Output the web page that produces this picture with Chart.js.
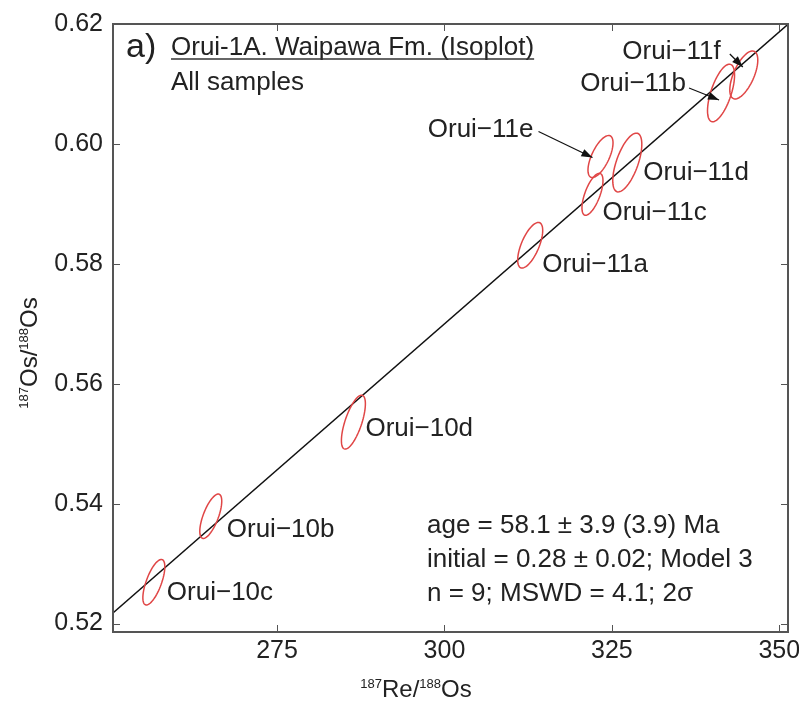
<!DOCTYPE html>
<html>
<head>
<meta charset="utf-8">
<script src="https://cdn.jsdelivr.net/npm/chart.js@4.4.1/dist/chart.umd.min.js"></script>
<style>
  html, body { margin: 0; padding: 0; background: #fff; }
  #wrap { width: 799px; height: 701px; position: relative; }
  canvas { display: block; }
</style>
</head>
<body>
<div id="wrap"><canvas id="c" width="799" height="701"></canvas></div>
<script>
// Re-Os isochron data, Orui-1A (Waipawa Fm.)
const sampleNames = ['Orui−10c', 'Orui−10b', 'Orui−10d', 'Orui−11a', 'Orui−11c', 'Orui−11e', 'Orui−11d', 'Orui−11b', 'Orui−11f'];
const reOs      = [256.6, 265.1, 286.4, 312.8, 322.1, 323.3, 327.3, 341.3, 344.7];      // 187Re/188Os
const osOs      = [0.5269, 0.5379, 0.5536, 0.5831, 0.5916, 0.5979, 0.5969, 0.6085, 0.6115]; // 187Os/188Os
const reOsErr   = [1.64, 1.64, 1.79, 1.87, 1.57, 1.87, 2.17, 2.02, 2.09];               // 2σ
const osOsErr   = [0.0038, 0.0037, 0.0045, 0.0038, 0.0035, 0.0035, 0.0049, 0.0048, 0.0040]; // 2σ
const errCorr   = [0.68, 0.68, 0.68, 0.65, 0.65, 0.65, 0.62, 0.62, 0.62];

// Isochron fit
const fitIntercept = 0.2778;
const fitSlope = 0.000974;

const xTickValues = [275, 300, 325, 350];
const yTickValues = [0.52, 0.54, 0.56, 0.58, 0.60, 0.62];
const xRange = [250.5, 351.3];
const yRange = [0.5186, 0.62];

const panelTitle = 'Orui-1A. Waipawa Fm. (Isoplot)';
const panelSubtitle = 'All samples';
const statLines = ['age = 58.1 ± 3.9 (3.9) Ma', 'initial = 0.28 ± 0.02; Model 3', 'n = 9; MSWD = 4.1; 2σ'];

// Label placement (pixel offsets from each ellipse centre)
const labelLayout = [
  { dx: 13, dy: 8, align: 'left' },
  { dx: 16, dy: 11, align: 'left' },
  { dx: 12, dy: 5, align: 'left' },
  { dx: 12, dy: 17, align: 'left' },
  { dx: 10, dy: 16, align: 'left' },
  { dx: -67, dy: -29, align: 'right', arrow: [-62, -25, -8, 1] },
  { dx: 16, dy: 8, align: 'left' },
  { dx: -35, dy: -11, align: 'right', arrow: [-32, -5, -2, 7] },
  { dx: -23, dy: -25, align: 'right', arrow: [-14, -21, -1, -8] }
];

const FONT = '"Liberation Sans", Arial, Helvetica, sans-serif';
const TEXT_COLOR = '#222';
const FRAME_COLOR = '#555';

function textAt(ctx, str, x, cy, size, align) {
  ctx.font = size + 'px ' + FONT;
  ctx.textAlign = align || 'left';
  ctx.textBaseline = 'alphabetic';
  ctx.fillText(str, x, cy + 0.36 * size);
}

function arrow(ctx, x1, y1, x2, y2) {
  ctx.beginPath();
  ctx.moveTo(x1, y1);
  ctx.lineTo(x2, y2);
  ctx.stroke();
  const a = Math.atan2(y2 - y1, x2 - x1);
  const L = 11, W = 4;
  ctx.beginPath();
  ctx.moveTo(x2, y2);
  ctx.lineTo(x2 - L * Math.cos(a) + W * Math.sin(a), y2 - L * Math.sin(a) - W * Math.cos(a));
  ctx.lineTo(x2 - L * Math.cos(a) - W * Math.sin(a), y2 - L * Math.sin(a) + W * Math.cos(a));
  ctx.closePath();
  ctx.fill();
}

// Runs of [text, size, raise] pieces for titles with superscripts
function measureRun(ctx, parts) {
  let w = 0;
  for (const [t, s] of parts) { ctx.font = s + 'px ' + FONT; w += ctx.measureText(t).width; }
  return w;
}
function drawRun(ctx, parts, x, baseline) {
  ctx.textAlign = 'left';
  ctx.textBaseline = 'alphabetic';
  for (const [t, s, raise] of parts) {
    ctx.font = s + 'px ' + FONT;
    ctx.fillText(t, x, baseline - raise);
    x += ctx.measureText(t).width;
  }
}

const isoPlugin = {
  id: 'isochron',
  afterDatasetsDraw(chart) {
    const ctx = chart.ctx;
    const xs = chart.scales.x, ys = chart.scales.y;
    const area = chart.chartArea;

    // error ellipses
    ctx.save();
    ctx.beginPath();
    ctx.rect(area.left, area.top, area.right - area.left, area.bottom - area.top);
    ctx.clip();
    ctx.strokeStyle = '#e04646';
    ctx.lineWidth = 1.5;
    for (let i = 0; i < reOs.length; i++) {
      const r = errCorr[i], q = Math.sqrt(1 - r * r);
      ctx.beginPath();
      for (let k = 0; k <= 72; k++) {
        const t = k / 72 * Math.PI * 2;
        const vx = reOs[i] + reOsErr[i] * Math.cos(t);
        const vy = osOs[i] + osOsErr[i] * (r * Math.cos(t) + q * Math.sin(t));
        const px = xs.getPixelForValue(vx), py = ys.getPixelForValue(vy);
        if (k === 0) ctx.moveTo(px, py); else ctx.lineTo(px, py);
      }
      ctx.closePath();
      ctx.stroke();
    }
    ctx.restore();

    // sample labels and pointers
    ctx.save();
    ctx.strokeStyle = '#111';
    ctx.lineWidth = 1.2;
    for (let i = 0; i < sampleNames.length; i++) {
      const cx = xs.getPixelForValue(reOs[i]), cy = ys.getPixelForValue(osOs[i]);
      const L = labelLayout[i];
      ctx.fillStyle = TEXT_COLOR;
      textAt(ctx, sampleNames[i], cx + L.dx, cy + L.dy, 26, L.align);
      if (L.arrow) {
        ctx.fillStyle = '#111';
        arrow(ctx, cx + L.arrow[0], cy + L.arrow[1], cx + L.arrow[2], cy + L.arrow[3]);
      }
    }
    ctx.restore();
  },
  afterDraw(chart) {
    const ctx = chart.ctx;
    const xs = chart.scales.x, ys = chart.scales.y;
    const a = chart.chartArea;
    ctx.save();

    // inward tick marks on all four sides
    ctx.strokeStyle = FRAME_COLOR;
    ctx.lineWidth = 1;
    const tl = 7;
    ctx.beginPath();
    for (const v of xTickValues) {
      const p = Math.round(xs.getPixelForValue(v)) + 0.5;
      ctx.moveTo(p, a.bottom); ctx.lineTo(p, a.bottom - tl);
      ctx.moveTo(p, a.top); ctx.lineTo(p, a.top + tl);
    }
    for (const v of yTickValues) {
      const p = Math.round(ys.getPixelForValue(v)) + 0.5;
      ctx.moveTo(a.left, p); ctx.lineTo(a.left + tl, p);
      ctx.moveTo(a.right, p); ctx.lineTo(a.right - tl, p);
    }
    ctx.stroke();

    // frame
    ctx.lineWidth = 2;
    ctx.strokeRect(a.left, a.top, a.right - a.left, a.bottom - a.top);

    // panel heading
    ctx.fillStyle = TEXT_COLOR;
    ctx.font = '34px ' + FONT;
    ctx.textAlign = 'left';
    ctx.textBaseline = 'alphabetic';
    ctx.fillText('a)', a.left + 13, 57);
    const tx = a.left + 58;
    textAt(ctx, panelTitle, tx, 46, 26, 'left');
    ctx.font = '26px ' + FONT;
    const tw = ctx.measureText(panelTitle).width;
    ctx.strokeStyle = '#333';
    ctx.lineWidth = 1.3;
    ctx.beginPath();
    ctx.moveTo(tx, 59); ctx.lineTo(tx + tw, 59);
    ctx.stroke();
    textAt(ctx, panelSubtitle, tx, 81, 26, 'left');

    // fit statistics
    statLines.forEach((s, i) => textAt(ctx, s, 427, 524 + i * 34, 26, 'left'));

    // axis titles with isotope superscripts
    const xParts = [['187', 13, 9], ['Re/', 24, 0], ['188', 13, 9], ['Os', 24, 0]];
    const xw = measureRun(ctx, xParts);
    drawRun(ctx, xParts, 416 - xw / 2, 697);

    const yParts = [['187', 13, 9], ['Os/', 24, 0], ['188', 13, 9], ['Os', 24, 0]];
    const yw = measureRun(ctx, yParts);
    ctx.translate(37, 353);
    ctx.rotate(-Math.PI / 2);
    drawRun(ctx, yParts, -yw / 2, 0);
    ctx.restore();
  }
};

new Chart(document.getElementById('c'), {
  type: 'scatter',
  data: {
    datasets: [{
      type: 'line',
      label: 'isochron',
      data: xRange.map(x => ({ x: x, y: fitIntercept + fitSlope * x })),
      borderColor: '#111',
      borderWidth: 1.4,
      pointRadius: 0,
      fill: false
    }]
  },
  options: {
    responsive: false,
    animation: false,
    devicePixelRatio: 1,
    layout: { padding: { top: 24, right: 11, bottom: 0, left: 0 } },
    plugins: { legend: { display: false }, tooltip: { enabled: false } },
    scales: {
      x: {
        type: 'linear',
        min: xRange[0], max: xRange[1],
        grid: { display: false, drawTicks: false },
        border: { display: false },
        ticks: { font: { family: FONT, size: 25 }, color: TEXT_COLOR, padding: 4, maxRotation: 0 },
        afterBuildTicks: s => { s.ticks = xTickValues.map(v => ({ value: v })); },
        afterFit: s => { s.height = 69; s.paddingLeft = 0; s.paddingRight = 0; }
      },
      y: {
        type: 'linear',
        min: yRange[0], max: yRange[1],
        grid: { display: false, drawTicks: false },
        border: { display: false },
        ticks: { font: { family: FONT, size: 25 }, color: TEXT_COLOR, padding: 10, callback: v => v.toFixed(2) },
        afterBuildTicks: s => { s.ticks = yTickValues.map(v => ({ value: v })); },
        afterFit: s => { s.width = 113; s.paddingTop = 0; s.paddingBottom = 0; }
      }
    }
  },
  plugins: [isoPlugin]
});
</script>
</body>
</html>
